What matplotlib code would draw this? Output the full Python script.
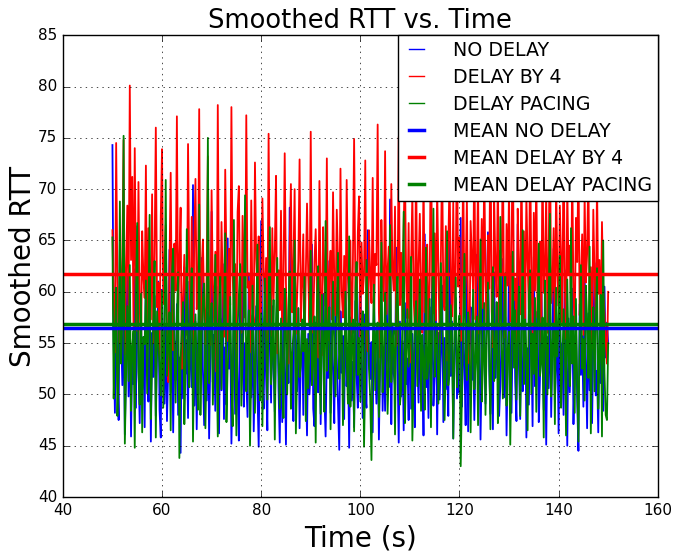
import numpy as np
import matplotlib
matplotlib.use("Agg")
import matplotlib.pyplot as plt

# samples every 0.25 s starting at 50 s
t_start = 50.0
t_step = 0.25

no_delay = [
    74.3, 55.0, 48.2, 60.1, 52.4, 47.5, 64.8, 56.3, 50.9, 58.7, 46.1, 53.2, 61.5, 49.8, 57.6, 45.9, 54.4, 51.0, 62.2, 48.7,
    66.4, 52.8, 47.2, 57.9, 50.5, 55.6, 46.8, 62.9, 53.1, 49.3, 58.4, 45.4, 56.0, 51.7, 59.6, 47.9, 54.0, 61.0, 48.5, 45.8,
    60.2, 53.9, 49.1, 56.8, 47.4, 52.6, 64.1, 50.2, 57.3, 46.3, 55.2, 51.4, 58.8, 48.0, 53.6, 44.3, 56.5, 49.6, 62.4, 52.0,
    55.3, 47.7, 61.0, 53.4, 50.7, 70.4, 48.9, 57.1, 46.6, 54.7, 59.3, 50.0, 63.3, 52.3, 47.0, 56.2, 49.4, 58.0, 45.7, 53.8,
    67.8, 51.2, 55.8, 48.4, 60.5, 53.0, 46.2, 57.4, 50.4, 62.7, 47.6, 54.6, 49.0, 65.2, 52.5, 56.9, 45.2, 51.8, 59.0, 48.1,
    56.8, 50.8, 45.5, 59.1, 53.5, 62.5, 48.8, 55.0, 51.3, 47.8, 61.8, 54.2, 49.7, 57.7, 46.4, 53.0, 58.6, 50.1, 44.9, 55.4,
    66.9, 52.0, 48.6, 57.6, 51.5, 46.5, 63.7, 54.8, 49.2, 58.6, 52.7, 48.3, 56.1, 60.0, 50.6, 45.3, 54.9, 47.3, 59.8, 53.3,
    45.1, 56.3, 51.1, 68.2, 49.5, 54.1, 47.4, 62.2, 55.6, 50.3, 58.4, 46.7, 53.7, 57.2, 48.0, 61.1, 52.2, 46.0, 55.9, 50.0,
    52.8, 64.6, 48.6, 46.9, 57.0, 53.8, 50.2, 61.2, 47.1, 55.4, 59.8, 49.9, 45.9, 54.3, 51.6, 63.0, 48.2, 56.6, 52.4, 47.2,
    60.4, 53.6, 49.0, 44.6, 58.1, 52.1, 55.7, 47.6, 61.9, 50.8, 54.5, 44.8, 57.5, 49.4, 53.2, 46.8, 59.1, 51.9, 48.7, 56.4,
    62.7, 52.3, 47.7, 57.8, 50.0, 48.7, 66.0, 54.0, 51.5, 55.1, 46.3, 59.3, 53.1, 49.1, 56.7, 45.6, 52.9, 60.6, 48.4, 54.6,
    48.4, 61.6, 54.3, 50.7, 69.0, 47.1, 56.9, 52.0, 50.8, 64.3, 52.7, 45.3, 57.1, 49.8, 55.2, 46.5, 58.9, 51.0, 53.5, 47.5,
    60.9, 48.6, 55.9, 52.5, 46.8, 63.9, 53.4, 49.2, 57.3, 49.3, 54.8, 46.0, 65.6, 50.7, 54.4, 47.7, 58.5, 51.2, 61.4, 48.9,
    52.2, 58.2, 46.1, 56.0, 49.5, 53.9, 60.6, 47.3, 55.5, 50.5, 53.7, 47.9, 64.9, 51.8, 57.1, 45.7, 54.1, 59.4, 49.6, 54.2,
    50.1, 67.2, 48.8, 56.4, 52.9, 47.0, 62.0, 46.4, 55.3, 58.5, 51.4, 55.2, 47.5, 53.8, 63.6, 50.5, 57.7, 45.6, 52.6, 60.1,
    54.7, 49.1, 58.9, 65.8, 52.5, 48.1, 56.2, 46.6, 61.9, 51.6, 54.9, 58.7, 47.9, 50.9, 55.8, 63.2, 49.7, 57.5, 46.0, 53.0,
    62.4, 53.3, 48.2, 56.5, 59.9, 51.2, 47.4, 66.6, 52.8, 47.6, 56.7, 50.3, 52.1, 60.8, 45.8, 54.5, 49.0, 57.8, 55.5, 46.9,
    63.4, 50.8, 53.9, 58.1, 47.3, 51.7, 61.3, 53.6, 48.5, 57.0, 45.1, 55.6, 50.6, 59.5, 47.8, 54.0, 64.2, 49.5, 52.6, 56.1,
    46.2, 58.3, 51.3, 55.0, 48.0, 62.1, 53.1, 45.0, 57.4, 50.2, 54.3, 60.3, 47.1, 52.9, 56.8, 49.3, 44.5, 58.8, 51.9, 55.7,
    48.8, 61.7, 53.4, 46.7, 57.9, 50.4, 59.6, 47.2, 54.7, 62.8, 49.9, 52.3, 46.3, 56.3, 51.1, 58.2, 48.4, 60.5, 53.6, 57.0,
    55.0,
]

delay_by_4 = [
    66.0, 58.2, 54.1, 74.5, 61.0, 55.1, 55.0, 59.7, 63.4, 74.8, 53.9, 62.0, 68.4, 57.6, 80.1, 63.1, 71.2, 56.4, 74.0, 60.2,
    56.2, 70.7, 58.9, 52.8, 65.9, 61.4, 59.4, 72.3, 54.6, 66.2, 61.8, 57.3, 69.5, 55.0, 63.7, 76.0, 58.5, 60.9, 53.7, 67.3,
    73.9, 58.8, 62.6, 66.5, 56.1, 51.2, 62.4, 71.6, 57.0, 54.3, 64.7, 60.1, 77.1, 57.9, 62.8, 68.2, 52.5, 59.3, 63.6, 59.0,
    55.8, 74.4, 61.7, 56.6, 67.3, 53.2, 64.9, 71.0, 58.3, 60.0, 77.8, 55.5, 62.2, 65.1, 58.4, 54.9, 61.3, 73.2, 57.4, 54.8,
    69.9, 60.7, 57.0, 63.9, 52.2, 78.2, 59.8, 56.3, 66.8, 60.6, 55.6, 71.9, 62.9, 55.2, 64.2, 58.7, 78.0, 61.6, 58.1, 62.7,
    53.5, 67.8, 70.3, 59.7, 56.0, 67.4, 61.9, 57.5, 77.2, 60.4, 61.0, 54.1, 68.9, 58.6, 56.9, 72.6, 63.2, 60.2, 65.4, 52.9,
    59.1, 69.1, 62.3, 58.5, 63.3, 55.3, 75.4, 60.9, 55.7, 66.2, 59.2, 64.1, 71.3, 54.0, 62.1, 58.2, 67.9, 56.4, 61.1, 73.5,
    60.8, 55.6, 53.0, 64.5, 70.5, 58.0, 62.4, 70.0, 55.9, 59.4, 63.0, 72.9, 57.1, 60.5, 65.6, 54.5, 61.8, 68.6, 61.5, 56.8,
    75.6, 59.0, 56.0, 62.9, 66.1, 59.6, 53.6, 70.8, 60.3, 53.8, 66.3, 62.0, 58.6, 73.0, 55.3, 61.7, 64.0, 57.3, 69.7, 61.2,
    57.7, 68.0, 63.1, 54.4, 72.0, 59.9, 57.5, 63.5, 56.7, 70.9, 61.3, 58.3, 65.0, 53.4, 62.5, 74.9, 60.4, 57.2, 65.8, 69.3,
    55.6, 64.8, 59.8, 61.7, 72.8, 56.1, 54.2, 66.0, 61.6, 58.9, 71.1, 56.5, 63.7, 62.6, 76.3, 58.0, 53.6, 67.0, 60.9, 59.1,
    73.7, 57.8, 62.1, 64.4, 55.4, 70.5, 61.9, 60.1, 68.3, 54.7, 59.0, 75.1, 58.7, 63.8, 56.8, 66.4, 72.2, 61.1, 57.4, 66.7,
    53.1, 62.7, 69.6, 59.5, 56.3, 74.1, 55.8, 62.3, 67.6, 60.0, 56.0, 71.7, 58.0, 63.9, 64.6, 54.9, 61.2, 76.7, 60.7, 57.9,
    65.7, 57.2, 70.2, 62.8, 55.0, 63.2, 73.3, 59.3, 58.2, 66.4, 53.3, 64.3, 71.4, 61.4, 57.6, 68.7, 57.0, 62.5, 74.7, 60.5,
    65.3, 55.2, 59.7, 72.4, 58.6, 61.5, 69.0, 56.3, 53.0, 66.9, 63.4, 60.0, 74.2, 57.3, 62.1, 70.6, 55.9, 60.8, 67.1, 58.4,
    72.5, 61.0, 56.2, 65.5, 60.3, 77.0, 58.1, 54.6, 69.2, 62.6, 59.5, 71.5, 56.6, 64.0, 61.8, 73.8, 58.8, 55.5, 66.6, 60.6,
    70.1, 57.1, 63.6, 75.9, 59.2, 61.3, 54.3, 68.1, 62.2, 57.8, 72.7, 60.2, 65.9, 56.9, 69.4, 63.0, 58.3, 74.3, 61.6, 55.7,
    67.7, 60.1, 71.8, 57.5, 62.4, 64.9, 55.1, 73.6, 59.9, 61.9, 69.8, 56.0, 63.5, 76.4, 58.9, 60.4, 66.2, 54.8, 71.0, 62.0,
    58.6, 68.4, 63.3, 57.0, 75.3, 60.6, 55.4, 70.4, 61.8, 64.5, 58.1, 72.1, 59.6, 56.5, 67.2, 62.9, 73.1, 57.7, 61.0, 65.6,
    55.8, 69.5, 60.9, 63.7, 71.9, 58.2, 62.4, 54.5, 68.0, 61.4, 57.3, 70.7, 59.8, 63.1, 56.1, 66.8, 60.2, 58.0, 55.2, 53.0,
    60.0,
]

delay_pacing = [
    65.3, 49.6, 55.8, 60.4, 47.9, 52.7, 68.8, 53.0, 57.4, 75.2, 45.2, 51.9, 58.6, 51.3, 62.6, 48.4, 54.7, 56.2, 44.8, 60.0,
    66.7, 52.2, 49.0, 59.8, 46.3, 55.6, 54.9, 61.1, 50.1, 57.2, 67.5, 47.6, 53.3, 57.5, 63.0, 45.8, 58.1, 55.3, 52.6, 49.9,
    60.1, 48.7, 56.0, 70.9, 51.8, 54.6, 58.0, 46.5, 61.5, 64.2, 54.0, 49.2, 57.6, 61.9, 43.8, 53.2, 56.7, 59.0, 47.1, 52.3,
    66.1, 53.6, 50.7, 58.4, 62.3, 45.4, 55.1, 57.8, 52.0, 48.5, 68.5, 48.0, 55.7, 59.4, 60.8, 46.7, 53.4, 75.0, 51.1, 57.0,
    58.9, 49.0, 54.3, 63.6, 53.9, 45.9, 58.5, 61.5, 50.5, 56.1, 57.1, 65.7, 47.3, 52.9, 54.4, 59.5, 51.6, 46.9, 67.0, 55.2,
    46.0, 56.5, 59.6, 62.7, 48.9, 53.3, 57.7, 69.4, 50.3, 54.8, 58.2, 45.0, 52.1, 60.6, 54.6, 48.2, 56.3, 64.6, 52.4, 49.4,
    57.9, 46.9, 55.5, 61.3, 55.0, 49.5, 58.8, 66.3, 51.0, 54.1, 59.2, 45.6, 56.9, 63.3, 53.1, 48.6, 57.4, 52.2, 47.7, 60.3,
    55.6, 50.0, 58.3, 62.0, 48.6, 53.8, 56.0, 65.0, 46.2, 52.5, 58.4, 51.7, 52.8, 57.3, 54.2, 61.7, 47.4, 55.4, 50.6, 55.1,
    64.0, 50.9, 53.0, 57.6, 45.3, 59.1, 62.5, 53.4, 48.1, 59.7, 54.9, 48.3, 66.9, 52.3, 56.6, 58.5, 46.6, 53.7, 61.0, 54.5,
    49.8, 57.8, 63.8, 51.5, 55.9, 56.9, 47.0, 52.1, 60.0, 53.7, 49.1, 65.4, 48.8, 55.0, 57.3, 46.4, 59.9, 62.9, 51.9, 55.5,
    49.3, 56.4, 58.1, 44.9, 52.0, 63.1, 57.8, 52.5, 49.7, 43.6, 54.3, 60.7, 50.4, 56.1, 57.0, 47.8, 53.0, 64.8, 50.2, 53.5,
    59.9, 55.4, 48.1, 52.7, 66.5, 51.2, 55.2, 56.3, 46.1, 58.6, 61.6, 54.7, 49.0, 50.6, 57.5, 67.8, 47.2, 53.6, 58.3, 52.7,
    55.3, 63.4, 45.5, 51.4, 57.2, 59.1, 50.8, 56.0, 61.2, 48.4, 55.8, 53.1, 48.5, 64.3, 51.5, 53.2, 59.3, 46.8, 57.9, 68.1,
    51.7, 55.0, 56.6, 49.1, 53.4, 62.8, 57.1, 54.3, 47.5, 52.8, 65.9, 50.9, 52.1, 58.7, 55.5, 45.7, 56.2, 61.4, 50.7, 53.8,
    57.7, 43.0, 49.7, 56.8, 63.7, 53.3, 51.4, 58.0, 56.4, 46.3, 54.0, 60.2, 50.5, 53.2, 57.6, 47.0, 55.8, 65.1, 49.3, 52.9,
    58.9, 48.0, 55.3, 60.9, 53.6, 46.6, 56.7, 62.4, 51.3, 54.2, 59.0, 47.2, 52.4, 67.3, 55.0, 49.6, 57.0, 61.8, 48.9, 54.4,
    56.1, 45.1, 53.5, 63.9, 52.6, 58.2, 49.5, 55.7, 60.5, 47.9, 54.8, 66.0, 51.0, 57.3, 53.9, 46.5, 59.6, 62.1, 50.1, 55.9,
    52.0, 59.4, 48.3, 56.5, 64.7, 51.8, 53.1, 57.5, 45.8, 61.1, 55.2, 50.0, 58.8, 67.6, 49.8, 54.6, 56.9, 47.1, 60.4, 53.7,
    57.2, 63.5, 48.7, 52.6, 58.3, 55.1, 46.0, 61.2, 54.0, 50.8, 66.2, 53.0, 57.6, 48.2, 59.3, 51.2, 45.4, 56.4, 62.6, 52.5,
    55.4, 49.4, 60.6, 57.3, 51.6, 64.4, 46.2, 54.9, 58.5, 50.3, 56.8, 62.3, 48.6, 53.9, 59.7, 45.9, 65.0, 52.2, 48.0, 47.5,
    55.0,
]

# mean lines
mean_no_delay = 56.5
mean_delay_by_4 = 61.7
mean_delay_pacing = 56.9


def times(series):
    return t_start + t_step * np.arange(len(series))


plt.style.use("classic")
fig = plt.figure(figsize=(6.76, 5.51), dpi=100)
ax = fig.add_axes([0.093, 0.098, 0.880, 0.838])

ax.plot(times(no_delay), no_delay, "b", linewidth=1.3, label="NO DELAY")
ax.plot(times(delay_by_4), delay_by_4, "r", linewidth=1.3, label="DELAY BY 4")
ax.plot(times(delay_pacing), delay_pacing, "g", linewidth=1.3, label="DELAY PACING")
ax.axhline(mean_no_delay, color="b", linewidth=2.5, label="MEAN NO DELAY")
ax.axhline(mean_delay_by_4, color="r", linewidth=2.5, label="MEAN DELAY BY 4")
ax.axhline(mean_delay_pacing, color="g", linewidth=2.5, label="MEAN DELAY PACING")

ax.set_xlim(40, 160)
ax.set_ylim(40, 85)
ax.grid(True)
ax.tick_params(labelsize=11)

ax.set_title("Smoothed RTT vs. Time", fontsize=18.5)
ax.set_xlabel("Time (s)", fontsize=20)
ax.set_ylabel("Smoothed RTT", fontsize=20, labelpad=1)
leg = ax.legend(loc="upper right", fontsize=13.7, borderaxespad=0, borderpad=0.3,
                handlelength=1.4, handletextpad=1.2, labelspacing=0.42)
for line in leg.get_lines()[:3]:
    line.set_linewidth(1)

fig.savefig("out.png", dpi=100)
